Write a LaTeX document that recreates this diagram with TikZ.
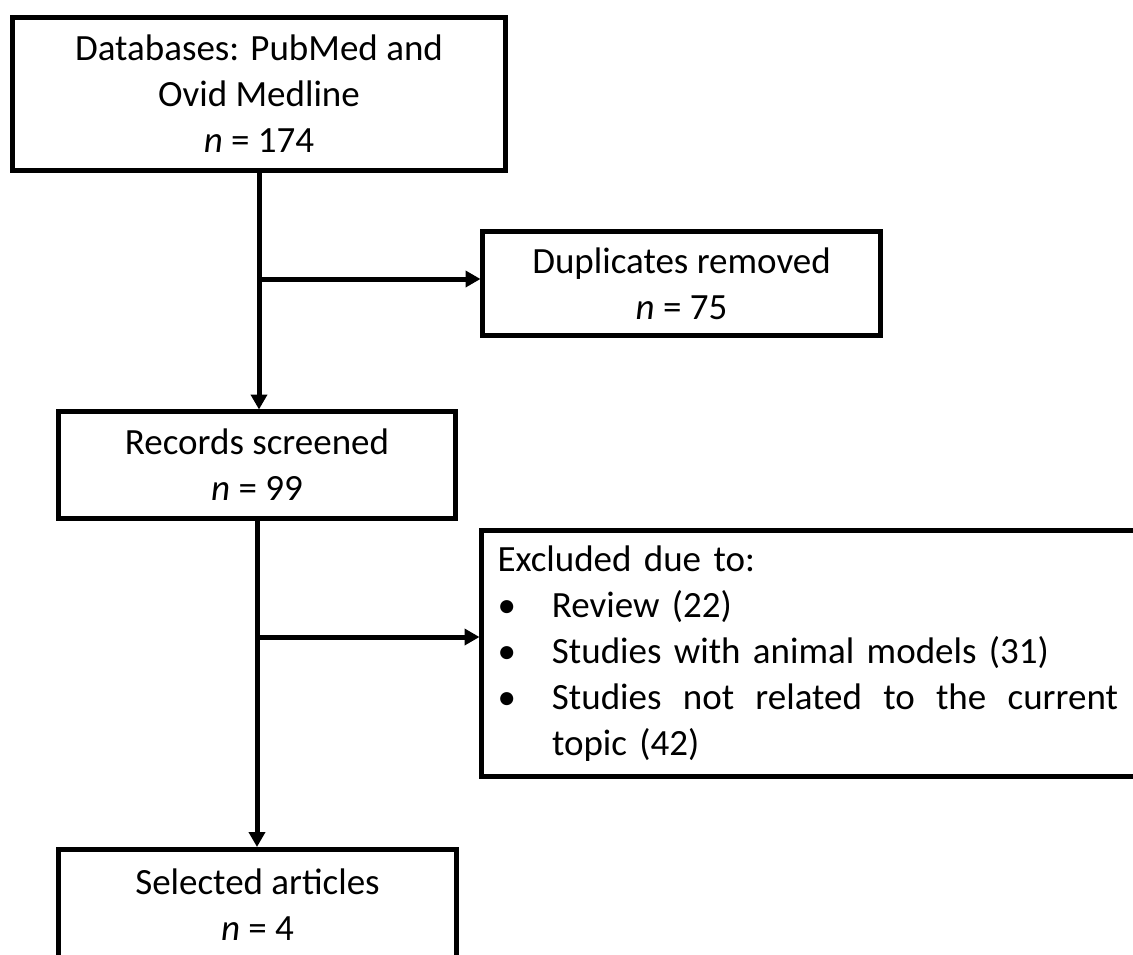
\documentclass[tikz,border=0pt]{standalone}
\usepackage{fontspec}
\setmainfont{Carlito}
\usetikzlibrary{arrows.meta}
\begin{document}
\begin{tikzpicture}[x=1pt,y=-1pt,
  box/.style={draw, line width=5pt, rectangle, inner sep=0pt, outer sep=0pt, align=center,
    font=\fontsize{37pt}{46pt}\selectfont},
  arr/.style={line width=5pt, shorten >=2pt, -{Triangle[length=15pt,width=16pt]}}]
\useasboundingbox (0,0) rectangle (1133,954);
\fill[white] (0,0) rectangle (1133,954);
\clip (0,0) rectangle (1133,954);
\node[box, minimum width=493pt, minimum height=153pt] (top) at (259,94)
  {Databases: PubMed and\\Ovid Medline\\\textit{n} = 174};
\node[box, minimum width=398pt, minimum height=104pt] (dup) at (681.5,283.5)
  {Duplicates removed\\\textit{n} = 75};
\node[box, minimum width=397pt, minimum height=107pt] (rec) at (257,465)
  {Records screened\\\textit{n} = 99};
\node[box, anchor=west, align=left, text width=700pt, inner xsep=16pt, minimum height=246pt] (exc) at (481.5,653.5)
  {Excluded due to:\\
   \makebox[54.5pt][l]{•}Review (22)\\
   \makebox[54.5pt][l]{•}Studies with animal models (31)\\
   \makebox[54.5pt][l]{•}\hbox to 566pt{Studies\hfill not\hfill related\hfill to\hfill the\hfill current}\\
   \hspace*{54.5pt}topic (42)};
\node[box, minimum width=398pt, minimum height=112pt] (sel) at (257.5,905)
  {Selected articles\\\textit{n} = 4};
\coordinate (j1) at (259,279);
\coordinate (j2) at (257,637);
\draw[arr] (top.south) -- (top.south |- rec.north);
\draw[arr] (j1) -- (j1 -| dup.west);
\draw[arr] (rec.south) -- (rec.south |- sel.north);
\draw[arr] (j2) -- (j2 -| exc.west);
\end{tikzpicture}
\end{document}
